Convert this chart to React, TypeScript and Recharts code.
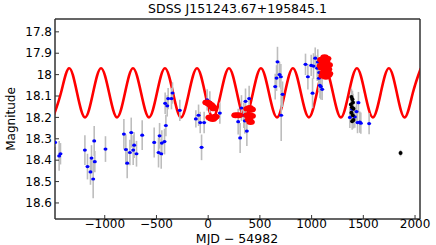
import { ComposedChart, Line, Scatter, XAxis, YAxis, ErrorBar, ReferenceLine } from "recharts";

// model curve at quarter periods (peaks / midpoints / troughs)
const curveT = [
  -1500, -1423, -1345, -1268, -1190, -1113, -1036, -958, -881, -804, -727, -649,
  -572, -495, -418, -340, -263, -186, -108, -31, 46, 124, 201, 278, 355, 433, 510,
  587, 665, 742, 819, 896, 974, 1051, 1128, 1206, 1283, 1360, 1438, 1515, 1592,
  1669, 1747, 1824, 1901, 1979, 2056,
];
const curveMag = [
  18.2, 18.085, 17.97, 18.085, 18.2, 18.085, 17.97, 18.085, 18.2, 18.085, 17.97, 18.085,
  18.2, 18.085, 17.97, 18.085, 18.2, 18.085, 17.97, 18.085, 18.2, 18.085, 17.97, 18.085,
  18.2, 18.085, 17.97, 18.085, 18.2, 18.085, 17.97, 18.085, 18.2, 18.085, 17.97, 18.085,
  18.2, 18.085, 17.97, 18.085, 18.2, 18.085, 17.97, 18.085, 18.2, 18.085, 17.97,
];

// blue photometry points
const blueT = [
  -1480, -1441, -1428, -1192, -1167, -1138, -1128, -1112, -1102, -1096, -993, -815,
  -796, -783, -757, -744, -725, -716, -693, -638, -522, -480, -470, -454, -448, -422,
  -409, -416, -396, -387, -355, -345, -274, -119, -93, -77, -64, -39, -10, 16, 113,
  290, 309, 322, 345, 354, 361, 374, 396, 648, 661, 670, 690, 703, 706, 719, 941, 964,
  996, 1009, 1018, 1035, 1054, 1060, 1070, 1073, 1080, 1089, 1102, 1370, 1392, 1418,
  1434, 1444, 1453, 1466, 1476, 1556,
];
const blueMag = [
  18.317, 18.38, 18.37, 18.353, 18.43, 18.455, 18.39, 18.488, 18.31, 18.407, 18.348, 18.278,
  18.35, 18.414, 18.364, 18.271, 18.353, 18.33, 18.37, 18.283, 18.317, 18.364, 18.286, 18.37,
  18.32, 18.313, 18.238, 18.134, 18.146, 18.112, 18.112, 18.086, 18.167, 18.207, 18.19,
  18.224, 18.34, 18.224, 18.118, 18.128, 18.18, 18.22, 18.296, 18.156, 18.19, 18.216,
  18.125, 18.264, 18.112, 18.056, 18.016, 17.94, 18.0, 18.01, 18.19, 18.092, 17.952, 18.01,
  17.957, 18.087, 17.96, 17.923, 17.97, 17.941, 18.017, 17.99, 18.05, 18.056, 18.069, 18.2,
  18.162, 18.198, 18.173, 18.224, 18.131, 18.222, 18.227, 18.229,
];
const blueErr = [
  0.02, 0.07, 0.05, 0.07, 0.06, 0.06, 0.06, 0.09, 0.07, 0.05, 0.06, 0.07,
  0.07, 0.07, 0.06, 0.07, 0.07, 0.06, 0.06, 0.07, 0.07, 0.07, 0.06, 0.07,
  0.06, 0.06, 0.05, 0.05, 0.05, 0.05, 0.05, 0.05, 0.05, 0.04, 0.05,
  0.05, 0.06, 0.05, 0.05, 0.05, 0.05, 0.06, 0.07, 0.06, 0.06, 0.06,
  0.06, 0.07, 0.06, 0.06, 0.06, 0.07, 0.06, 0.06, 0.12, 0.06, 0.05, 0.06,
  0.05, 0.07, 0.06, 0.05, 0.06, 0.06, 0.06, 0.06, 0.06, 0.06, 0.05, 0.05,
  0.05, 0.05, 0.05, 0.05, 0.05, 0.05, 0.05, 0.05,
];

// red (large) points
const redT = [
  -15, 5, 25, 40, 55, 15, 30, 45, 60, 70,
  265, 295, 380, 400, 420, 380, 400, 420, 395, 410,
  1095, 1125, 1150, 1110, 1140, 1165, 1100, 1130, 1158, 1118, 1145, 1168, 1108, 1138, 1160, 1090,
];
const redMag = [
  18.13, 18.135, 18.142, 18.15, 18.158, 18.2, 18.205, 18.208, 18.2, 18.196,
  18.19, 18.19, 18.16, 18.156, 18.163, 18.19, 18.188, 18.193, 18.21, 18.222,
  17.93, 17.918, 17.925, 17.948, 17.94, 17.955, 17.968, 17.965, 17.975, 17.99, 17.985, 17.995,
  18.005, 18.01, 18.002, 17.958,
];

// black points
const blackT = [1385, 1395, 1380, 1400, 1390, 1405, 1385, 1398, 1405, 1392, 1860];
const blackMag = [18.105, 18.115, 18.14, 18.13, 18.152, 18.16, 18.178, 18.19, 18.212, 18.218, 18.367];
const blackErr = [0.04, 0.04, 0.04, 0.04, 0.04, 0.04, 0.04, 0.04, 0.04, 0.04, 0.015];

const xTicks = [-1000, -500, 0, 500, 1000, 1500, 2000];
const yTicks = [17.8, 17.9, 18, 18.1, 18.2, 18.3, 18.4, 18.5, 18.6];

const curveData = curveT.map((t, i) => ({ t, mag: curveMag[i] }));
const blueData = blueT.map((t, i) => ({ t, mag: blueMag[i], err: blueErr[i] }));
const redData = redT.map((t, i) => ({ t, mag: redMag[i] }));
const blackData = blackT.map((t, i) => ({ t, mag: blackMag[i], err: blackErr[i] }));

const FONT = "DejaVu Sans";
const X_DOMAIN: [number, number] = [-1481, 2048];
const Y_DOMAIN: [number, number] = [17.74, 18.675];
const FRAME = "#333";

const fmtX = (v: number) => (v < 0 ? `\u2212${Math.abs(v)}` : `${v}`);

const dot = (color: string, rx: number, ry: number) => (props: any) =>
  props.cx == null ? <g /> : <ellipse cx={props.cx} cy={props.cy} rx={rx} ry={ry} fill={color} />;

// nothing drawn; only used so the top/right frame axes get a series
const none = () => <g />;

export default function App() {
  const tickStyle = { fontSize: 12, fill: "#000", fontFamily: FONT };
  const line = { stroke: FRAME, strokeWidth: 1 };
  return (
    <div style={{ position: "absolute", left: 0, top: 0, width: 436, height: 245, background: "#fff" }}>
      <div
        style={{
          position: "absolute",
          left: 55,
          top: 1,
          width: 365,
          textAlign: "center",
          fontFamily: FONT,
          fontSize: 12.5,
          lineHeight: "15px",
          color: "#000",
        }}
      >
        SDSS J151243.67+195845.1
      </div>
      <div
        style={{
          position: "absolute",
          left: -39,
          top: 112,
          width: 100,
          height: 14,
          lineHeight: "14px",
          textAlign: "center",
          fontFamily: FONT,
          fontSize: 12,
          color: "#000",
          transform: "rotate(-90deg)",
        }}
      >
        Magnitude
      </div>
      <div
        style={{
          position: "absolute",
          left: 137,
          top: 232,
          width: 200,
          textAlign: "center",
          fontFamily: FONT,
          fontSize: 12.5,
          lineHeight: "14px",
          color: "#000",
        }}
      >
        MJD − 54982
      </div>
      <ComposedChart width={436} height={245} margin={{ top: 18, right: 15, bottom: 0, left: 10 }}>
        <XAxis
          dataKey="t"
          type="number"
          domain={X_DOMAIN}
          ticks={xTicks}
          allowDataOverflow
          tickFormatter={fmtX}
          tickSize={-4}
          tickMargin={4}
          height={26}
          tick={tickStyle}
          axisLine={line}
          tickLine={line}
        />
        <XAxis
          xAxisId="top"
          dataKey="t"
          orientation="top"
          type="number"
          domain={X_DOMAIN}
          ticks={xTicks}
          allowDataOverflow
          tickSize={-4}
          tick={false}
          height={1}
          axisLine={line}
          tickLine={line}
        />
        <YAxis
          dataKey="mag"
          type="number"
          reversed
          domain={Y_DOMAIN}
          ticks={yTicks}
          allowDataOverflow
          tickSize={-4}
          tickMargin={7}
          width={45}
          tick={tickStyle}
          axisLine={line}
          tickLine={line}
        />
        <YAxis
          yAxisId="r"
          dataKey="mag"
          orientation="right"
          type="number"
          reversed
          domain={Y_DOMAIN}
          ticks={yTicks}
          allowDataOverflow
          tickSize={-4}
          tick={false}
          width={1}
          axisLine={line}
          tickLine={line}
        />
        <Scatter xAxisId="top" yAxisId="r" data={redData} shape={none} isAnimationActive={false} />
        {/* plot box drawn at the domain edges */}
        <ReferenceLine x={X_DOMAIN[0]} stroke={FRAME} ifOverflow="extendDomain" />
        <ReferenceLine x={X_DOMAIN[1]} stroke={FRAME} ifOverflow="extendDomain" />
        <ReferenceLine y={Y_DOMAIN[0]} stroke={FRAME} ifOverflow="extendDomain" />
        <ReferenceLine y={Y_DOMAIN[1]} stroke={FRAME} ifOverflow="extendDomain" />
        <Line
          data={curveData}
          dataKey="mag"
          type="natural"
          stroke="#ff0000"
          strokeWidth={2.6}
          dot={false}
          activeDot={false}
          isAnimationActive={false}
        />
        <Scatter data={blueData} shape={dot("#0000ff", 2, 1.6)} isAnimationActive={false}>
          <ErrorBar dataKey="err" direction="y" width={0} stroke="#bdbdbd" strokeWidth={1.6} />
        </Scatter>
        <Scatter data={blackData} shape={dot("#000000", 2, 2)} isAnimationActive={false}>
          <ErrorBar dataKey="err" direction="y" width={0} stroke="#bdbdbd" strokeWidth={1.6} />
        </Scatter>
        <Scatter data={redData} shape={dot("#ff0000", 4.3, 2.9)} isAnimationActive={false} />
      </ComposedChart>
    </div>
  );
}
